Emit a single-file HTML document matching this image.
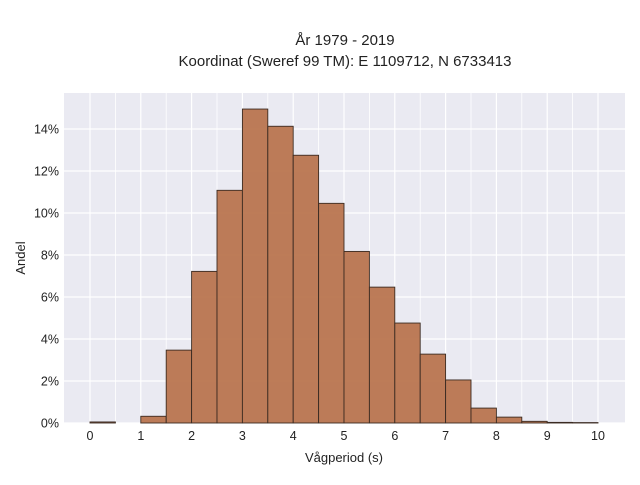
<!DOCTYPE html>
<html><head><meta charset="utf-8"><style>
body{margin:0;background:#fff;font-family:"Liberation Sans",sans-serif;}
svg text{font-family:"Liberation Sans",sans-serif;fill:#222;}
</style></head><body>
<svg width="640" height="480">
<rect x="0" y="0" width="640" height="480" fill="#fff"/>
<text x="345" y="45" text-anchor="middle" font-size="15">År 1979 - 2019</text>
<text x="345" y="66" text-anchor="middle" font-size="15">Koordinat (Sweref 99 TM): E 1109712, N 6733413</text>
<rect x="64" y="93" width="561" height="330" fill="#eaeaf2"/>
<g id="grid"></g>
<g id="bars"></g>
<g id="axes"></g>
<text x="344" y="462" text-anchor="middle" font-size="13">Vågperiod (s)</text>
<text x="0" y="0" transform="translate(25,258) rotate(-90)" text-anchor="middle" font-size="13">Andel</text>
</svg>
<script>
const binStarts=[0,0.5,1,1.5,2,2.5,3,3.5,4,4.5,5,5.5,6,6.5,7,7.5,8,8.5,9,9.5];
const shares=[0.05,0,0.32,3.47,7.22,11.08,14.95,14.13,12.75,10.46,8.17,6.47,4.76,3.28,2.05,0.71,0.28,0.08,0.03,0.02];
const xTicks=[0,1,2,3,4,5,6,7,8,9,10];
const yTicks=[0,2,4,6,8,10,12,14];
const binWidth=0.5;
const NS="http://www.w3.org/2000/svg";
const x=v=>90+v*50.8;
const y=v=>423-v*21;
const grid=document.getElementById('grid'),bars=document.getElementById('bars'),axes=document.getElementById('axes');
function mk(tag,attrs,parent){const e=document.createElementNS(NS,tag);for(const k in attrs)e.setAttribute(k,attrs[k]);parent.appendChild(e);return e;}
for(let v=0;v<=10;v+=0.5){
  const l=mk('line',{x1:x(v),x2:x(v),y1:93,y2:423,stroke:'#fff','stroke-width':v%1?0.8:1.2},grid);
  
  
}
yTicks.forEach(t=>{
  const l=mk('line',{x1:64,x2:625,y1:y(t),y2:y(t),stroke:'#fff','stroke-width':1.2},grid);
  
  
  const tx=mk('text',{x:59,y:y(t)+4.5,'text-anchor':'end','font-size':12.5},axes);
  tx.textContent=t+'%';
  
  
});
xTicks.forEach(t=>{
  const tx=mk('text',{x:x(t),y:440,'text-anchor':'middle','font-size':12.5},axes);
  tx.textContent=t;
  
  
});
binStarts.forEach((b,i)=>{
  const v=shares[i];
  const r=mk('rect',{x:x(b),y:y(v),width:x(b+binWidth)-x(b),height:y(0)-y(v),fill:'#b9754f','fill-opacity':0.95,stroke:'#3b2b22','stroke-width':0.9},bars);
  
  
});
</script>
</body></html>
